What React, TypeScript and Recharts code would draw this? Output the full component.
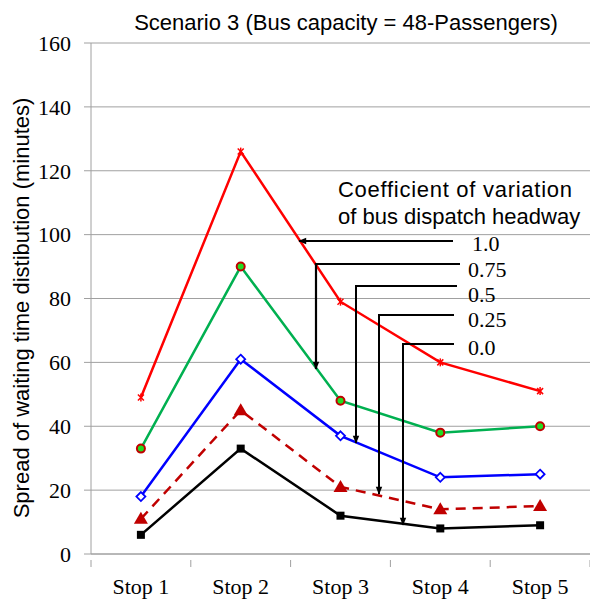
import React from 'react';
import { LineChart, Line, XAxis, YAxis, CartesianGrid } from 'recharts';

const stops = ['Stop 1', 'Stop 2', 'Stop 3', 'Stop 4', 'Stop 5'];
const cv100 = [49, 126, 79, 60, 51];
const cv075 = [33, 90, 48, 38, 40];
const cv050 = [18, 61, 37, 24, 25];
const cv025 = [11, 45, 21, 14, 15];
const cv000 = [6, 33, 12, 8, 9];
const yTicks = [0, 20, 40, 60, 80, 100, 120, 140, 160];
const xTicks = [0.5, 1, 1.5, 2, 2.5, 3, 3.5, 4, 4.5, 5, 5.5];

const data = stops.map((s, i) => ({
  pos: i + 1,
  name: s,
  a: cv100[i],
  b: cv075[i],
  c: cv050[i],
  d: cv025[i],
  e: cv000[i],
}));

const times = '"Times New Roman", "Liberation Serif", serif';
const arial = 'Arial, "Liberation Sans", sans-serif';

// 5 markers, one per series
const StarDot = (p: any) => (
  <g stroke="#ff0000" strokeWidth={1.5}>
    <line x1={p.cx - 3} y1={p.cy - 3} x2={p.cx + 3} y2={p.cy + 3} />
    <line x1={p.cx - 3} y1={p.cy + 3} x2={p.cx + 3} y2={p.cy - 3} />
    <line x1={p.cx} y1={p.cy - 4} x2={p.cx} y2={p.cy + 4} />
  </g>
);
const CircleDot = (p: any) => (
  <circle cx={p.cx} cy={p.cy} r={4} fill="#22dd22" stroke="#c00000" strokeWidth={2} />
);
const DiamondDot = (p: any) => (
  <path
    d={`M${p.cx},${p.cy - 4.5}L${p.cx + 4.5},${p.cy}L${p.cx},${p.cy + 4.5}L${p.cx - 4.5},${p.cy}Z`}
    fill="#fff"
    stroke="#0000ff"
    strokeWidth={1.8}
  />
);
const TriDot = (p: any) => (
  <path
    d={`M${p.cx},${p.cy - 7}L${p.cx + 7},${p.cy + 5}L${p.cx - 7},${p.cy + 5}Z`}
    fill="#c00000"
  />
);
const SquareDot = (p: any) => (
  <rect x={p.cx - 4} y={p.cy - 4} width={8} height={8} fill="#000" />
);

const XTick = (p: any) => {
  const v = p.payload.value;
  if (Number.isInteger(v)) {
    return (
      <text x={p.x} y={p.y + 32} textAnchor="middle" fontFamily={times} fontSize={22} fill="#000">
        {stops[v - 1]}
      </text>
    );
  }
  return <line x1={p.x} y1={p.y - 2} x2={p.x} y2={p.y + 5} stroke="#a0a0a0" />;
};

export default function App() {
  return (
    <div style={{ position: 'absolute', left: 0, top: 0, width: 590, height: 602, background: '#fff' }}>
      <LineChart width={590} height={602} data={data} margin={{ top: 43, right: 0, bottom: 0, left: 0 }}>
        <CartesianGrid vertical={false} stroke="#a0a0a0" />
        <XAxis
          dataKey="pos"
          type="number"
          domain={[0.5, 5.5]}
          ticks={xTicks}
          interval={0}
          tickLine={false}
          tick={<XTick />}
          height={48}
          stroke="#a0a0a0"
        />
        <YAxis
          domain={[0, 160]}
          ticks={yTicks}
          width={91}
          tickSize={7}
          tickMargin={13}
          stroke="#a0a0a0"
          tick={{ fontFamily: times, fontSize: 22, fill: '#000' }}
        />
        <Line dataKey="a" stroke="#ff0000" strokeWidth={2.5} dot={<StarDot />} isAnimationActive={false} />
        <Line dataKey="b" stroke="#00b050" strokeWidth={2.5} dot={<CircleDot />} isAnimationActive={false} />
        <Line dataKey="c" stroke="#0000ff" strokeWidth={2.5} dot={<DiamondDot />} isAnimationActive={false} />
        <Line
          dataKey="d"
          stroke="#c00000"
          strokeWidth={2.5}
          strokeDasharray="10 7"
          dot={<TriDot />}
          isAnimationActive={false}
        />
        <Line dataKey="e" stroke="#000" strokeWidth={2.5} dot={<SquareDot />} isAnimationActive={false} />
      </LineChart>

      {/* title, axis label, callouts */}
      <svg width={590} height={602} style={{ position: 'absolute', left: 0, top: 0, pointerEvents: 'none' }}>
        <defs>
          <marker
            id="ah"
            viewBox="0 0 10 10"
            refX="9"
            refY="5"
            markerUnits="userSpaceOnUse"
            markerWidth="9"
            markerHeight="8"
            orient="auto"
          >
            <path d="M0,1L10,5L0,9Z" fill="#000" />
          </marker>
        </defs>
        <text x={346} y={30} textAnchor="middle" fontFamily={arial} fontSize={22} fill="#000">
          Scenario 3 (Bus capacity = 48-Passengers)
        </text>
        <text
          x={29}
          y={308}
          textAnchor="middle"
          fontFamily={arial}
          fontSize={22}
          fill="#000"
          transform="rotate(-90 29 308)"
        >
          Spread of waiting  time distibution  (minutes)
        </text>
        <text x={338} y={197} fontFamily={arial} fontSize={22} fill="#000" textLength={234} lengthAdjust="spacing">
          Coefficient of variation
        </text>
        <text x={338} y={224} fontFamily={arial} fontSize={22} fill="#000">
          of bus dispatch headway
        </text>
        <g stroke="#000" strokeWidth={2.2} fill="none">
          <line x1={453} y1={241} x2={299} y2={241} markerEnd="url(#ah)" />
          <polyline points="460,264 316,264 316,369" markerEnd="url(#ah)" />
          <polyline points="457,286 356,286 356,443" markerEnd="url(#ah)" strokeWidth={2} />
          <polyline points="454,315 379,315 379,494" markerEnd="url(#ah)" strokeWidth={2} />
          <polyline points="454,344 403,344 403,525" markerEnd="url(#ah)" strokeWidth={2} />
        </g>
        <g fontFamily={times} fontSize={22} fill="#000">
          <text x={472} y={251}>1.0</text>
          <text x={468} y={277}>0.75</text>
          <text x={468} y={302}>0.5</text>
          <text x={468} y={327}>0.25</text>
          <text x={468} y={355}>0.0</text>
        </g>
      </svg>
    </div>
  );
}
